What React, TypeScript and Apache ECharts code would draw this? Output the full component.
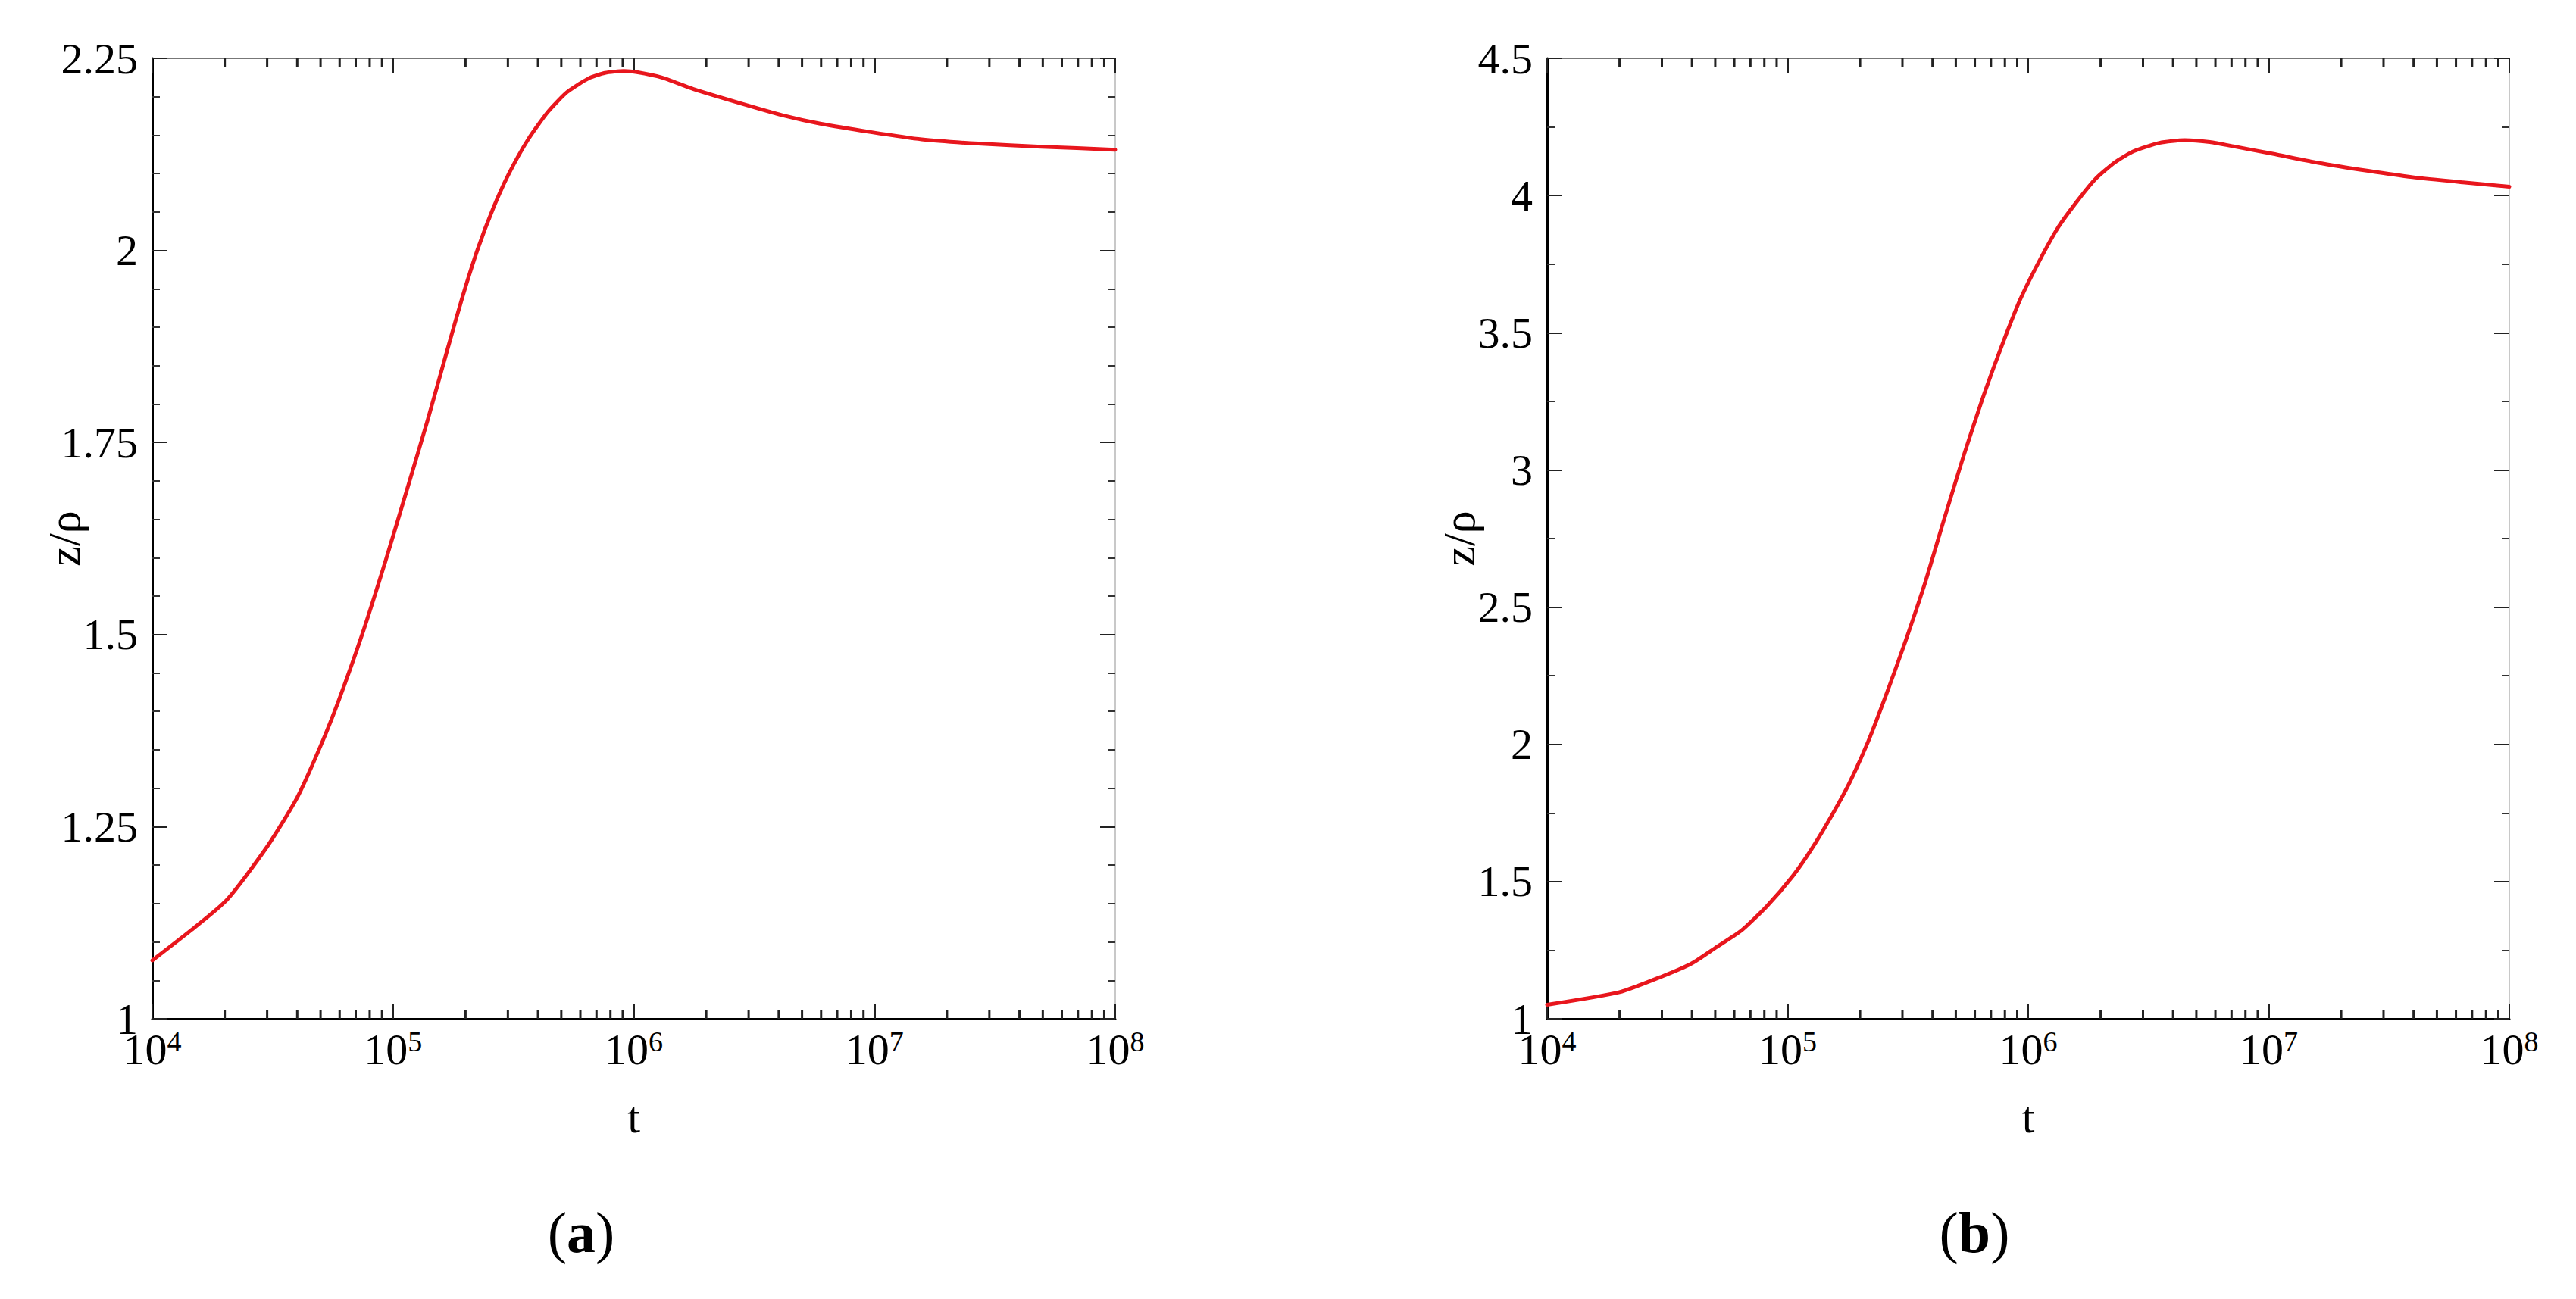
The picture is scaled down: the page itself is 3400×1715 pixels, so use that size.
import React, { useEffect, useRef } from "react";
import * as echarts from "echarts";

// ---------- data ----------
const T_A = [
  1e4, 2e4, 3e4, 4e4, 5e4, 5.96e4, 7.44e4, 9.29e4, 1.159e5, 1.395e5, 1.679e5, 1.945e5,
  2.255e5, 2.616e5, 3.03e5, 3.65e5, 4.39e5, 5.28e5, 6.5e5, 7.59e5, 9.1e5, 1.03e6,
  1.31e6, 1.77e6, 2.88e6, 4.14e6, 5.95e6, 9.66e6, 1.57e7, 2.7e7, 4.95e7, 1e8,
];
const Z_A = [
  1.076, 1.152, 1.224, 1.288, 1.355, 1.415, 1.5, 1.595, 1.695, 1.78, 1.87, 1.94,
  2.003, 2.056, 2.1, 2.145, 2.18, 2.206, 2.224, 2.231, 2.2335, 2.232,
  2.225, 2.21, 2.19, 2.176, 2.165, 2.154, 2.1445, 2.139, 2.135, 2.131,
];

const T_B = [
  1e4, 2e4, 3e4, 4e4, 5e4, 6.43e4, 8.19e4, 1.05e5, 1.25e5, 1.5e5, 1.8e5, 2.16e5,
  2.59e5, 3.1e5, 3.73e5, 4.47e5, 5.36e5, 6.43e5, 7.71e5, 9.25e5, 1.11e6, 1.33e6, 1.6e6,
  1.91e6, 2.3e6, 2.75e6, 3.51e6, 4.47e6, 5.69e6, 7.26e6, 1.04e7, 1.59e7, 2.59e7, 3.96e7,
  6.42e7, 1e8,
];
const Z_B = [
  1.051, 1.097, 1.154, 1.202, 1.258, 1.322, 1.41, 1.52, 1.615, 1.73, 1.857, 2.01,
  2.19, 2.38, 2.59, 2.82, 3.045, 3.255, 3.445, 3.62, 3.76, 3.883, 3.98,
  4.062, 4.122, 4.162, 4.192, 4.202, 4.195, 4.178, 4.152, 4.12, 4.09, 4.067,
  4.048, 4.032,
];

// axis ranges / ticks
const X_RANGE = [1e4, 1e8];
const DECADES = [4, 5, 6, 7];
const MINOR_MULTIPLIERS = [2, 3, 4, 5, 6, 7, 8, 9];
const Y_RANGE_A = [1, 2.25];
const Y_STEP_A = 0.25;
const Y_RANGE_B = [1, 4.5];
const Y_STEP_B = 0.5;
const X_NAME = "t";
const Y_NAME = "z/ρ";
const CAPTIONS = ["a", "b"];

// ---------- style ----------
const FONT = '"Liberation Serif", "Times New Roman", serif';
const RED = "#e8161d";
const TICK = "#222";
const MINOR_TICK = "#222";

const minorTicks: number[] = [];
for (const d of DECADES) {
  for (const m of MINOR_MULTIPLIERS) minorTicks.push(m * Math.pow(10, d));
}

function xAxes(gridIndex: number) {
  const majorTick = { show: true, inside: true, length: 20, lineStyle: { color: TICK, width: 2 } };
  const logBase: any = {
    type: "log",
    logBase: 10,
    min: X_RANGE[0],
    max: X_RANGE[1],
    gridIndex,
    splitLine: { show: false },
    minorSplitLine: { show: false },
  };
  return [
    {
      ...logBase,
      position: "bottom",
      axisLine: { show: true, onZero: false, lineStyle: { color: "#000", width: 3 } },
      axisTick: majorTick,
      axisLabel: {
        show: true,
        margin: 11,
        color: "#000",
        formatter: (v: number) => `{b|10}{s|${Math.round(Math.log10(v))}}`,
        rich: {
          b: { fontFamily: FONT, fontSize: 58, lineHeight: 58, color: "#000", verticalAlign: "bottom" },
          s: {
            fontFamily: FONT,
            fontSize: 38,
            lineHeight: 38,
            color: "#000",
            verticalAlign: "top",
            padding: [0, 0, 28, 0],
          },
        },
      },
      name: X_NAME,
      nameLocation: "middle",
      nameGap: 100,
      nameMoveOverlap: false,
      nameTextStyle: { fontFamily: FONT, fontSize: 60, color: "#000" },
    },
    {
      ...logBase,
      position: "top",
      axisLine: { show: true, onZero: false, lineStyle: { color: "#777", width: 2 } },
      axisTick: majorTick,
      axisLabel: { show: false },
    },
  ];
}

function yAxes(gridIndex: number, range: number[], step: number, minorSplit: number) {
  const base: any = {
    type: "value",
    gridIndex,
    min: range[0],
    max: range[1],
    interval: step,
    splitLine: { show: false },
    minorSplitLine: { show: false },
    axisTick: { show: true, inside: true, length: 20, lineStyle: { color: TICK, width: 2 } },
    minorTick: { show: true, splitNumber: minorSplit, length: 10, lineStyle: { color: "#333", width: 2 } },
  };
  return [
    {
      ...base,
      position: "left",
      axisLine: { show: true, onZero: false, lineStyle: { color: "#000", width: 3 } },
      axisLabel: { show: true, fontFamily: FONT, fontSize: 58, color: "#000", margin: 19 },
      name: Y_NAME,
      nameLocation: "middle",
      nameGap: 86,
      nameMoveOverlap: false,
      nameTextStyle: { fontFamily: FONT, fontSize: 60, color: "#000" },
    },
    {
      ...base,
      position: "right",
      axisLine: { show: true, onZero: false, lineStyle: { color: "#c8c8c8", width: 2 } },
      axisLabel: { show: false },
    },
  ];
}

// minor ticks of the log x axis (bottom: pointing up, top: pointing down),
// placed through the log axis' own scale as thin rectangle symbols
function minorTickSeries(xi: number, yi: number, yValue: number, dir: number) {
  return {
    type: "scatter",
    xAxisIndex: xi,
    yAxisIndex: yi,
    silent: true,
    clip: false,
    z: 5,
    data: minorTicks.map((t) => [t, yValue]),
    symbol: "rect",
    symbolSize: [3, 12],
    symbolOffset: [0, 6 * dir],
    itemStyle: { color: MINOR_TICK, opacity: 1 },
  };
}

function caption(letter: string, x: number, y: number) {
  return {
    type: "text",
    x,
    y,
    silent: true,
    style: {
      text: "{p|(}{b|" + letter + "}{p|)}",
      align: "center",
      verticalAlign: "middle",
      fill: "#000",
      fontFamily: FONT,
      fontSize: 76,
      rich: {
        p: { fontFamily: FONT, fontSize: 76, fill: "#000" },
        b: { fontFamily: FONT, fontSize: 76, fontWeight: "bold", fill: "#000" },
      },
    },
  };
}

export default function App() {
  const ref = useRef<HTMLDivElement>(null);

  useEffect(() => {
    if (!ref.current) return;
    const chart = echarts.init(ref.current, null, { renderer: "svg" });
    const lineSeries = (name: string, xi: number, yi: number, t: number[], z: number[]) => ({
      type: "line",
      name,
      xAxisIndex: xi,
      yAxisIndex: yi,
      data: t.map((v, i) => [v, z[i]]),
      symbol: "none",
      showSymbol: false,
      smooth: 0.2,
      silent: true,
      z: 4,
      lineStyle: { color: RED, width: 5, join: "round", cap: "round" },
    });
    const option: any = {
      animation: false,
      backgroundColor: "#fff",
      grid: [
        { left: 201, top: 77, width: 1271, height: 1268, containLabel: false, outerBoundsMode: "none" },
        { left: 2042, top: 77, width: 1270, height: 1268, containLabel: false, outerBoundsMode: "none" },
      ],
      xAxis: [...xAxes(0), ...xAxes(1)],
      yAxis: [...yAxes(0, Y_RANGE_A, Y_STEP_A, 5), ...yAxes(1, Y_RANGE_B, Y_STEP_B, 2)],
      series: [
        lineSeries("a", 0, 0, T_A, Z_A),
        lineSeries("b", 2, 2, T_B, Z_B),
        minorTickSeries(0, 0, Y_RANGE_A[0], -1),
        minorTickSeries(0, 0, Y_RANGE_A[1], 1),
        minorTickSeries(2, 2, Y_RANGE_B[0], -1),
        minorTickSeries(2, 2, Y_RANGE_B[1], 1),
      ],
      graphic: [caption(CAPTIONS[0], 767, 1627), caption(CAPTIONS[1], 2606, 1627)],
    };
    chart.setOption(option);
    return () => chart.dispose();
  }, []);

  return (
    <div
      ref={ref}
      style={{ position: "absolute", left: 0, top: 0, width: 3400, height: 1715, background: "#fff" }}
    />
  );
}
